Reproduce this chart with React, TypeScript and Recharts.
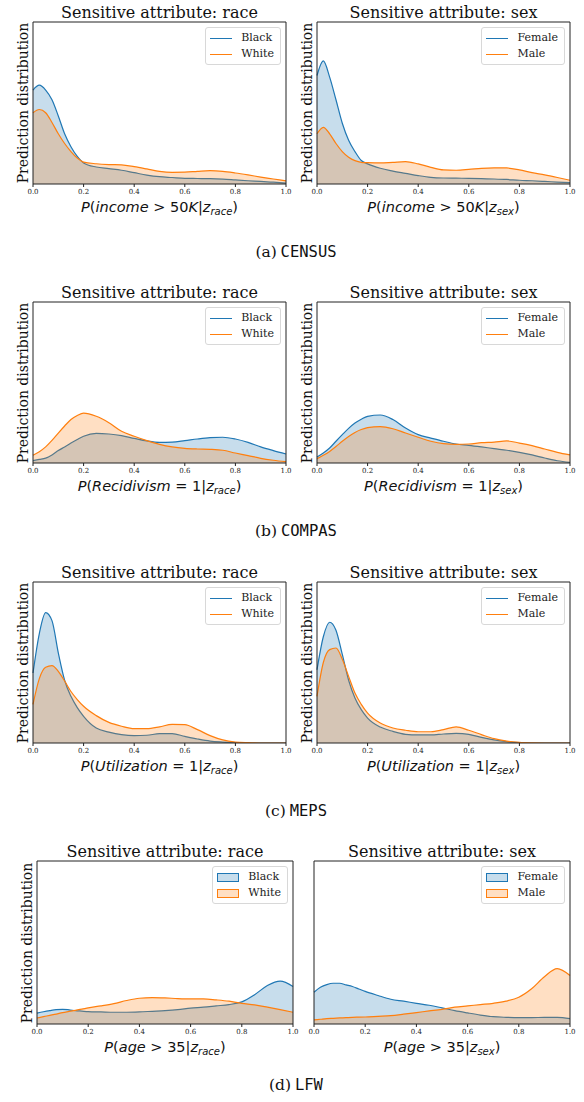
import React from 'react';
import { AreaChart, Area, XAxis, YAxis, ReferenceArea } from 'recharts';

// shared x grid for all KDE curves
const xs = [0, 0.025, 0.05, 0.075, 0.1, 0.125, 0.15, 0.175, 0.2, 0.25, 0.3, 0.35, 0.4, 0.45, 0.5, 0.55, 0.6, 0.65, 0.7, 0.75, 0.8, 0.85, 0.9, 0.95, 1.0];
const xTicks = [0, 0.2, 0.4, 0.6, 0.8, 1.0];

// densities, read as % of the plot height
const censusRaceBlack = [58, 61, 58, 52, 42, 31, 23, 17, 13, 10.5, 9.5, 8.5, 7, 5.5, 4.5, 4, 3.5, 3.4, 3.3, 3, 2.5, 2, 1.6, 1.1, 0.6];
const censusRaceWhite = [44, 46, 44, 38, 31, 25, 20, 16, 13.5, 12.5, 12, 11.8, 10.7, 9.3, 7.8, 7.2, 7.3, 7.8, 8.2, 7.8, 6.8, 5.6, 4.3, 3.1, 1.9];
const censusSexFemale = [67, 76, 66, 52, 37.5, 27, 20, 14.5, 12.4, 9.7, 8, 6.6, 5.2, 4.1, 3.7, 3.6, 3.5, 3.3, 3.1, 2.8, 2.3, 2, 1.6, 1.2, 0.8];
const censusSexMale = [31, 35, 31, 25, 20, 16.5, 14.4, 13.4, 13.2, 13, 13.4, 13.8, 12.4, 10.3, 8.7, 8.5, 9, 9.7, 10, 9.9, 8.7, 7, 5.6, 4, 2.3];

const compasRaceBlack = [1.5, 2.2, 3, 5, 7.7, 10, 12.4, 14.6, 16.6, 18.4, 18, 17, 15.3, 13.7, 12.8, 13, 13.9, 14.9, 15.7, 16, 14.9, 12.8, 10, 7.7, 5.6];
const compasRaceWhite = [4.8, 7, 10, 14, 18.6, 23, 27, 29.5, 31, 29, 25, 19.7, 16.6, 13.9, 11.6, 10, 9.1, 8.7, 8.5, 7.9, 6.2, 4.6, 2.9, 1.7, 0.8];
const compasSexFemale = [3.7, 6.2, 9.3, 13.5, 17.6, 21.5, 24.8, 27.2, 29, 29.8, 27, 21.7, 17.6, 15.5, 13.5, 11.8, 11, 10, 8.9, 7.9, 6.6, 5, 3.1, 1.4, 0.4];
const compasSexMale = [2.7, 4.8, 7.2, 10.2, 13.5, 16.5, 19, 20.8, 22, 22.6, 21.3, 18.6, 16, 13.5, 12, 11.6, 11.8, 12.6, 13, 13.7, 12.4, 10.8, 8.7, 6.6, 5];

const mepsRaceBlack = [43.5, 68, 81, 76, 56, 39, 29, 22, 16.6, 9.3, 6.8, 5.2, 4.6, 4.8, 5.8, 5.8, 4.1, 2.5, 1.2, 0.6, 0.2, 0, 0, 0, 0];
const mepsRaceWhite = [24, 40, 47, 48, 44.5, 38.5, 32, 27, 22.8, 17, 12.8, 10.4, 8.9, 8.9, 10, 11.6, 11.4, 8.3, 4.6, 1.9, 0.6, 0.2, 0, 0, 0];
const mepsSexFemale = [45.5, 66, 75, 70, 55, 39, 28, 20.7, 15.5, 9.9, 7.2, 5.4, 5, 5, 5.6, 6, 5.4, 3.5, 1.9, 0.8, 0.2, 0, 0, 0, 0];
const mepsSexMale = [29, 50, 58, 59, 52, 41.4, 31, 24, 18.6, 12.4, 9.3, 7.9, 7, 7, 8.3, 10, 7.9, 5.2, 2.7, 1.2, 0.4, 0.1, 0, 0, 0];

const lfwRaceBlack = [6.7, 7.5, 8.2, 8.8, 9, 8.7, 8.2, 7.9, 7.6, 7.4, 7.2, 7.2, 7.4, 7.8, 8.2, 8.8, 9.7, 10.3, 11.1, 11.9, 13.6, 18, 23.6, 26.3, 23];
const lfwRaceWhite = [3.7, 4.5, 5.3, 6.1, 7, 7.7, 8.4, 9.1, 9.9, 11.1, 12.5, 14.4, 15.8, 16.2, 16, 15.6, 15.4, 15.4, 14.8, 14, 12.7, 11.7, 10.3, 8.8, 7.2];
const lfwSexFemale = [19.5, 22.5, 24.2, 25, 25, 24, 23, 21.5, 20, 17.5, 15.2, 14, 12.7, 11.5, 9.9, 8.2, 6.8, 5.5, 4.5, 4.1, 3.9, 3.9, 4.1, 4.1, 3.3];
const lfwSexMale = [2.5, 2.9, 3.3, 3.5, 3.7, 3.9, 4.1, 4.2, 4.3, 4.7, 5.1, 6, 7, 8, 9, 10.3, 11.1, 11.9, 12.7, 14, 16.4, 21.6, 29, 34, 29.8];

const raceLabels = ['Black', 'White'];
const sexLabels = ['Female', 'Male'];
const captions = ['(a)', '(b)', '(c)', '(d)'];
const datasets = ['CENSUS', 'COMPAS', 'MEPS', 'LFW'];

const BLUE = '#1f77b4';
const ORANGE = '#ff7f0e';
const SERIF = '"DejaVu Serif", serif';
const MATH = '"DejaVu Sans", sans-serif';

const ML = 14, MR = 14, MT = 2, XH = 16;

function XLabel({ target, rel, attr }: { target: string; rel: string; attr: string }) {
  return (
    <span>
      <i>P</i>(<i>{target}</i>{rel}<i>z</i>
      <sub style={{ fontSize: 10 }}><i>{attr}</i></sub>)
    </span>
  );
}

function Legend({ labels, patch, right, top }: any) {
  return (
    <div style={{
      position: 'absolute', right, top, border: '1px solid #d8d8d8', borderRadius: 3,
      background: 'rgba(255,255,255,0.85)', padding: '2px 6px 2px 4px',
      fontFamily: SERIF, fontSize: 11, color: '#222', lineHeight: '16px',
    }}>
      {labels.map((l: string, i: number) => {
        const c = i === 0 ? BLUE : ORANGE;
        return (
          <div key={l} style={{ whiteSpace: 'nowrap' }}>
            {patch ? (
              <span style={{ display: 'inline-block', width: 20, height: 7, background: c + '40', border: `1px solid ${c}`, verticalAlign: 'middle', marginRight: 9 }} />
            ) : (
              <span style={{ display: 'inline-block', width: 22, height: 0, borderTop: `1.5px solid ${c}`, verticalAlign: 'middle', marginRight: 9 }} />
            )}
            {l}
          </div>
        );
      })}
    </div>
  );
}

function Panel({ left, right, top, bottom, a, b, labels, title, xlabel, ylabel, patch }: any) {
  const w = right - left;
  const h = bottom - top;
  const data = xs.map((x, i) => ({ x, a: a[i], b: b[i] }));
  const cx = (left + right) / 2;
  return (
    <>
      <div style={{ position: 'absolute', left: cx, top: top - 10, transform: 'translate(-50%,-50%)', fontFamily: SERIF, fontSize: 16, color: '#111', whiteSpace: 'nowrap' }}>
        {title}
      </div>
      {ylabel && (
        <div style={{ position: 'absolute', left: left - 10, top: (top + bottom) / 2, transform: 'translate(-50%,-50%) rotate(-90deg)', fontFamily: SERIF, fontSize: 14, color: '#111', whiteSpace: 'nowrap' }}>
          Prediction distribution
        </div>
      )}
      <div style={{ position: 'absolute', left: left - ML, top: top - MT }}>
        <AreaChart width={w + ML + MR} height={h + MT + XH} data={data} margin={{ top: MT, right: MR, bottom: 0, left: ML }}>
          <XAxis
            dataKey="x" type="number" domain={[0, 1]} ticks={xTicks} interval={0}
            tickFormatter={(v: number) => v.toFixed(1)} axisLine={false}
            tick={{ fontSize: 7, fontFamily: SERIF, fill: '#222' }}
            tickLine={{ stroke: '#222' }} tickSize={3} height={XH}
          />
          <YAxis hide domain={[0, 100]} allowDataOverflow />
          <Area type="monotone" dataKey="a" stroke={BLUE} strokeWidth={1.2} fill={BLUE} fillOpacity={0.25} dot={false} activeDot={false} isAnimationActive={false} />
          <Area type="monotone" dataKey="b" stroke={ORANGE} strokeWidth={1.2} fill={ORANGE} fillOpacity={0.25} dot={false} activeDot={false} isAnimationActive={false} />
          <ReferenceArea x1={0} x2={1} y1={0} y2={100} fill="none" stroke="#222" strokeWidth={1} ifOverflow="visible" />
        </AreaChart>
      </div>
      <div style={{ position: 'absolute', left: cx, top: bottom + 24, transform: 'translate(-50%,-50%)', fontFamily: MATH, fontSize: 14.5, color: '#111', whiteSpace: 'nowrap' }}>
        {xlabel}
      </div>
      <Legend labels={labels} patch={patch} right={584 - right + 5} top={top + 5} />
    </>
  );
}

const rows = [
  { top: 22, bottom: 184, cap: 252, l: [33, 286], r: [317, 570], target: 'Recidivism', income: true, race: [censusRaceBlack, censusRaceWhite], sex: [censusSexFemale, censusSexMale] },
  { top: 302, bottom: 463, cap: 531, l: [33, 286], r: [317, 570], target: 'Recidivism', rel: ' = 1', race: [compasRaceBlack, compasRaceWhite], sex: [compasSexFemale, compasSexMale] },
  { top: 582, bottom: 743, cap: 811, l: [33, 286], r: [317, 570], target: 'Utilization', rel: ' = 1', race: [mepsRaceBlack, mepsRaceWhite], sex: [mepsSexFemale, mepsSexMale] },
  { top: 861, bottom: 1024, cap: 1085, l: [37, 293], r: [314, 570], target: 'age', rel: ' > 35', race: [lfwRaceBlack, lfwRaceWhite], sex: [lfwSexFemale, lfwSexMale] },
];

export default function App() {
  return (
    <div style={{ position: 'absolute', left: 0, top: 0, width: 584, height: 1102, background: '#fff', overflow: 'hidden' }}>
      {rows.map((r: any, i) => {
        const lfw = i === 3;
        const xl = (attr: string) => r.income
          ? <span><i>P</i>(<i>income</i> &gt; 50<i>K</i>|<i>z</i><sub style={{ fontSize: 10 }}><i>{attr}</i></sub>)</span>
          : <XLabel target={r.target} rel={r.rel + '|'} attr={attr} />;
        return (
          <React.Fragment key={i}>
            <Panel left={r.l[0]} right={r.l[1]} top={r.top} bottom={r.bottom} a={r.race[0]} b={r.race[1]}
              labels={raceLabels} title="Sensitive attribute: race" xlabel={xl('race')} ylabel patch={lfw} />
            <Panel left={r.r[0]} right={r.r[1]} top={r.top} bottom={r.bottom} a={r.sex[0]} b={r.sex[1]}
              labels={sexLabels} title="Sensitive attribute: sex" xlabel={xl('sex')} ylabel={!lfw} patch={lfw} />
            <div style={{ position: 'absolute', left: 296, top: r.cap, transform: 'translate(-50%,-50%)', fontSize: 15.5, color: '#111', whiteSpace: 'nowrap' }}>
              <span style={{ fontFamily: SERIF }}>{captions[i]}</span>{' '}
              <span style={{ fontFamily: '"DejaVu Sans Mono", monospace' }}>{datasets[i]}</span>
            </div>
          </React.Fragment>
        );
      })}
    </div>
  );
}
